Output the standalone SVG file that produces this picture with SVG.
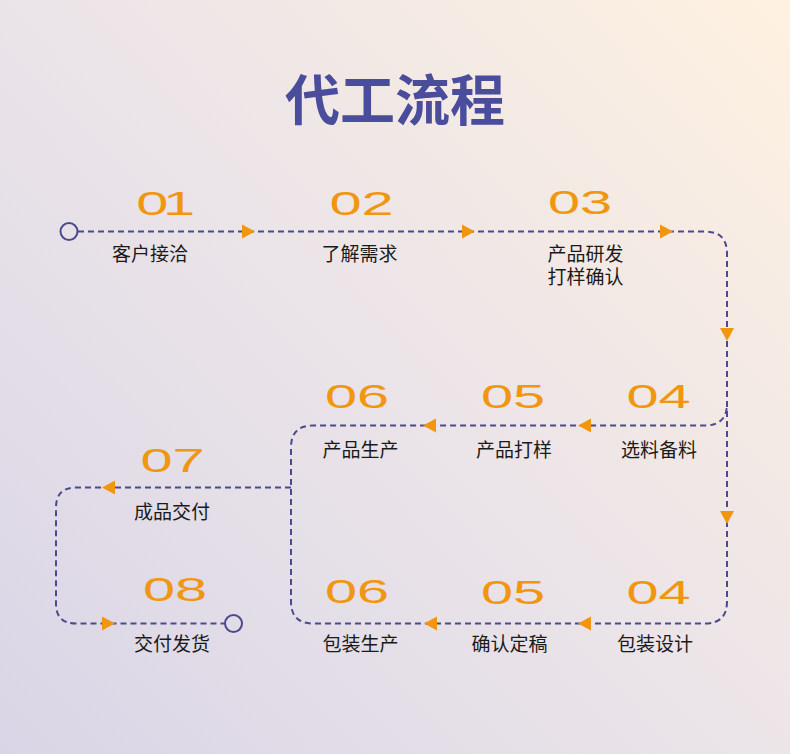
<svg xmlns="http://www.w3.org/2000/svg" width="790" height="754" viewBox="0 0 790 754">
<defs>
<linearGradient id="bg" gradientUnits="userSpaceOnUse" x1="0" y1="754" x2="790" y2="0">
<stop offset="0" stop-color="#D9D5E6"/>
<stop offset="0.5" stop-color="#EBE4E8"/>
<stop offset="1" stop-color="#FEF1E0"/>
</linearGradient>
<style>
.line{fill:none;stroke:#4B4A8F;stroke-width:2;stroke-dasharray:6 4}
.dot{fill:none;stroke:#4B4A8F;stroke-width:2}
.arr{fill:#F0960F}
.num{font-family:"Liberation Sans",Arial,sans-serif;font-size:33px;fill:#F0960F;text-anchor:middle}
.lbl{font-family:"Noto Sans CJK SC","Noto Sans",sans-serif;font-size:19px;fill:#1A1A1A;text-anchor:middle}
.title{font-family:"Noto Sans CJK SC","Noto Sans",sans-serif;font-size:55px;font-weight:700;fill:#4A4C9C;text-anchor:middle}
</style>
</defs>
<rect width="790" height="754" fill="url(#bg)"/>
<text class="title" x="395" y="120">代工流程</text>

<g id="connectors">
<path class="line" d="M78,231.5 H705 Q727,231.5 727,253.5 V601.5 Q727,623.5 705,623.5 H313 Q291,623.5 291,601.5 V447.5 Q291,425.5 313,425.5 H705 Q727,425.5 727,403.5"/>
<path class="line" d="M291,487.5 H76 Q56,487.5 56,507.5 V603.5 Q56,623.5 76,623.5 H225"/>
<circle class="dot" cx="69" cy="231.5" r="8.5"/>
<circle class="dot" cx="233.5" cy="623.5" r="8.5"/>
<polygon class="arr" points="242,224.5 255,231.5 242,238.5"/>
<polygon class="arr" points="462,224.5 475,231.5 462,238.5"/>
<polygon class="arr" points="660,224.5 673,231.5 660,238.5"/>
<polygon class="arr" points="720,328 734,328 727,341"/>
<polygon class="arr" points="591,418.5 578,425.5 591,432.5"/>
<polygon class="arr" points="436,418.5 423,425.5 436,432.5"/>
<polygon class="arr" points="720,511 734,511 727,524"/>
<polygon class="arr" points="591,616.5 578,623.5 591,630.5"/>
<polygon class="arr" points="437,616.5 424,623.5 437,630.5"/>
<polygon class="arr" points="115,480.5 102,487.5 115,494.5"/>
<polygon class="arr" points="102,616.5 115,623.5 102,630.5"/>
</g>

<g id="step01"><text class="num" letter-spacing="-3" transform="translate(163,215) scale(1.75,1)">01</text><text class="lbl" x="150" y="261">客户接洽</text></g>
<g id="step02"><text class="num" transform="translate(361.5,215) scale(1.75,1)">02</text><text class="lbl" x="359.5" y="261">了解需求</text></g>
<g id="step03"><text class="num" transform="translate(580,214) scale(1.75,1)">03</text><text class="lbl" x="585.5" y="260.5">产品研发<tspan x="585.5" dy="23">打样确认</tspan></text></g>
<g id="step04a"><text class="num" transform="translate(658.5,408) scale(1.75,1)">04</text><text class="lbl" x="659" y="456.5">选料备料</text></g>
<g id="step05a"><text class="num" transform="translate(513,408) scale(1.75,1)">05</text><text class="lbl" x="514" y="456.5">产品打样</text></g>
<g id="step06a"><text class="num" transform="translate(357,408) scale(1.75,1)">06</text><text class="lbl" x="360.5" y="456.5">产品生产</text></g>
<g id="step07"><text class="num" transform="translate(172.5,472) scale(1.75,1)">07</text><text class="lbl" x="172" y="518.5">成品交付</text></g>
<g id="step04b"><text class="num" transform="translate(658.5,604) scale(1.75,1)">04</text><text class="lbl" x="655" y="650.5">包装设计</text></g>
<g id="step05b"><text class="num" transform="translate(513,604) scale(1.75,1)">05</text><text class="lbl" x="509.5" y="650.5">确认定稿</text></g>
<g id="step06b"><text class="num" transform="translate(357,603) scale(1.75,1)">06</text><text class="lbl" x="360.5" y="650.5">包装生产</text></g>
<g id="step08"><text class="num" transform="translate(175,601) scale(1.75,1)">08</text><text class="lbl" x="172" y="650.5">交付发货</text></g>
</svg>
